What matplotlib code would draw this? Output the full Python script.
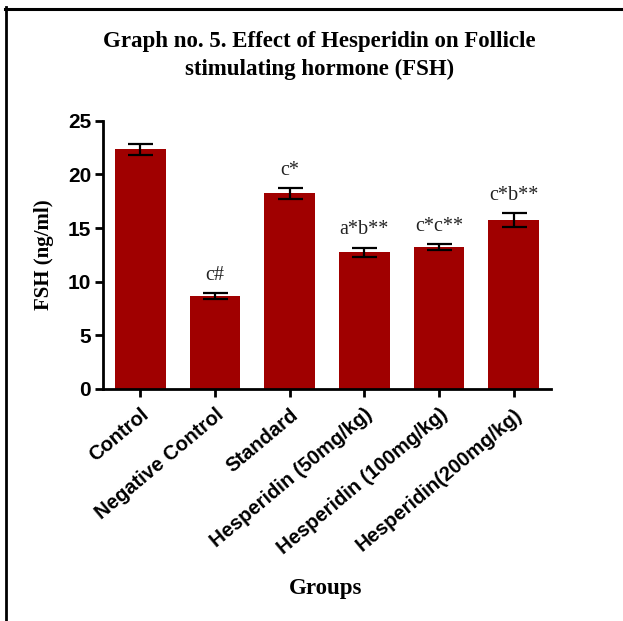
import matplotlib
matplotlib.use("Agg")
import matplotlib.pyplot as plt
from matplotlib.lines import Line2D
import numpy as np

groups = ["Control", "Negative Control", "Standard", "Hesperidin (50mg/kg)",
          "Hesperidin (100mg/kg)", "Hesperidin(200mg/kg)"]
fsh_mean = [22.35, 8.63, 18.22, 12.76, 13.22, 15.74]
fsh_sem = [0.50, 0.27, 0.50, 0.42, 0.30, 0.65]
significance = ["", "c#", "c*", "a*b**", "c*c**", "c*b**"]
y_ticks = [0, 5, 10, 15, 20, 25]

bar_color = "#a00000"
serif = "Liberation Serif"
sans = "Liberation Sans"

fig = plt.figure(figsize=(6.23, 6.21), dpi=100)
ax = fig.add_axes([0.1653, 0.3736, 0.7191, 0.432])

x = np.arange(len(groups))
ax.bar(x, fsh_mean, width=0.68, color=bar_color, zorder=2)
ax.errorbar(x, fsh_mean, yerr=fsh_sem, fmt="none", ecolor="black",
            elinewidth=1.6, capsize=9, capthick=1.6, zorder=3)

for xi, m, s, lab in zip(x, fsh_mean, fsh_sem, significance):
    if lab:
        ax.annotate(lab, (xi, m + s), xytext=(0, 6), textcoords="offset points",
                    ha="center", va="bottom", fontfamily=serif, fontsize=14.5,
                    color="#222222")

ax.set_xlim(-0.5, 5.5)
ax.set_ylim(0, 25)
ax.set_yticks(y_ticks)
ax.set_xticks(x)
ax.set_xticklabels(groups, rotation=40, ha="right", rotation_mode="anchor",
                   fontfamily=sans, fontweight="bold", fontsize=14.5)
for t in ax.get_yticklabels():
    t.set_fontfamily(sans)
    t.set_fontweight("bold")
    t.set_fontsize(15)

for side in ("top", "right"):
    ax.spines[side].set_visible(False)
for side in ("left", "bottom"):
    ax.spines[side].set_linewidth(2.0)
ax.tick_params(axis="both", width=2.0, length=5.5, color="black")
ax.tick_params(axis="y", pad=3)
ax.tick_params(axis="x", pad=6)

ax.set_ylabel("FSH (ng/ml)", fontfamily=serif, fontweight="bold", fontsize=15,
              labelpad=10)
fig.text(0.523, 0.035, "Groups", ha="center", va="bottom", fontfamily=serif,
         fontweight="bold", fontsize=16.5)
fig.text(0.513, 0.911, "Graph no. 5. Effect of Hesperidin on Follicle\nstimulating hormone (FSH)",
         ha="center", va="center", fontfamily=serif, fontweight="bold",
         fontsize=16.5, linespacing=1.4)

# frame lines along the top and left edges of the figure
fig.add_artist(Line2D([0.0085, 1.0], [0.986, 0.986], color="black", lw=2.2,
                      transform=fig.transFigure))
fig.add_artist(Line2D([0.0095, 0.0095], [0.0, 0.988], color="black", lw=2.0,
                      transform=fig.transFigure))

fig.savefig("out.png", dpi=100, facecolor="white")
